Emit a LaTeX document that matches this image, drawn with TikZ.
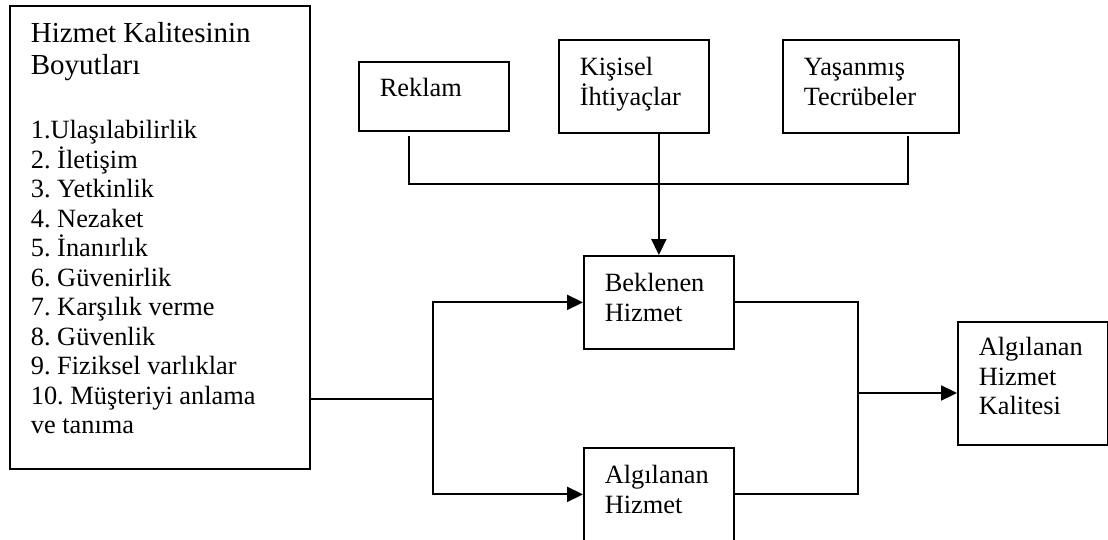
\documentclass[tikz,border=0pt]{standalone}
\usepackage{fontspec}
\setmainfont{Liberation Serif}
\usetikzlibrary{arrows.meta}

\begin{document}
\begin{tikzpicture}[x=0.02cm, y=-0.02cm, line width=1pt,
  box/.style={draw, anchor=north west, align=flush left, inner xsep=0.42cm, inner ysep=0pt,
    text width=2.16cm, text height=0.72cm, font=\fontsize{15}{16.8}\selectfont\frenchspacing},
  ok/.style={-{Triangle[length=9pt,width=8.5pt]}}]
\useasboundingbox (0,0) rectangle (1108,540);
\node[box, text width=5.16cm, text height=0.74cm, text depth=8.52cm] (boyut) at (9,5) {{\fontsize{16.5}{18.2}\selectfont Hizmet Kalitesinin\\[1.4pt] Boyutları}\\[19.6pt]
  1.Ulaşılabilirlik\\ 2. İletişim\\ 3. Yetkinlik\\ 4. Nezaket\\ 5. İnanırlık\\ 6. Güvenirlik\\ 7. Karşılık verme\\ 8. Güvenlik\\ 9. Fiziksel varlıklar\\ 10. Müşteriyi anlama\\ ve tanıma};
\node[box, text height=0.70cm, text depth=0.68cm] (reklam) at (358,61) {Reklam};
\node[box, text depth=1.14cm] (ihtiyac) at (558,39) {Kişisel\\İhtiyaçlar};
\node[box, text width=2.68cm, text depth=1.14cm] (tecrube) at (782,39) {Yaşanmış\\Tecrübeler};
\node[box, text depth=1.14cm] (beklenen) at (583,255) {Beklenen\\Hizmet};
\node[box, text depth=1.14cm] (algilanan) at (583,447) {Algılanan\\Hizmet};
\node[box, text height=0.68cm, text depth=1.78cm] (kalite) at (957,321) {Algılanan\\Hizmet\\Kalitesi};
\coordinate (catal) at (433,399);
\coordinate (birlesim) at (858,393);
\draw ([shift={(-25,4)}]reklam.south) -- ++(0,48) -| ([shift={(37,2)}]tecrube.south);
\draw[ok] (beklenen.north |- ihtiyac.south) -- (beklenen.north);
\draw (boyut.east |- catal) -- (catal);
\draw[ok] (catal) |- (beklenen.west);
\draw[ok] (catal) |- (algilanan.west);
\draw (beklenen.east) -| (birlesim) |- (algilanan.east);
\draw[ok] (birlesim) -- (kalite.west |- birlesim);
\end{tikzpicture}
\end{document}
